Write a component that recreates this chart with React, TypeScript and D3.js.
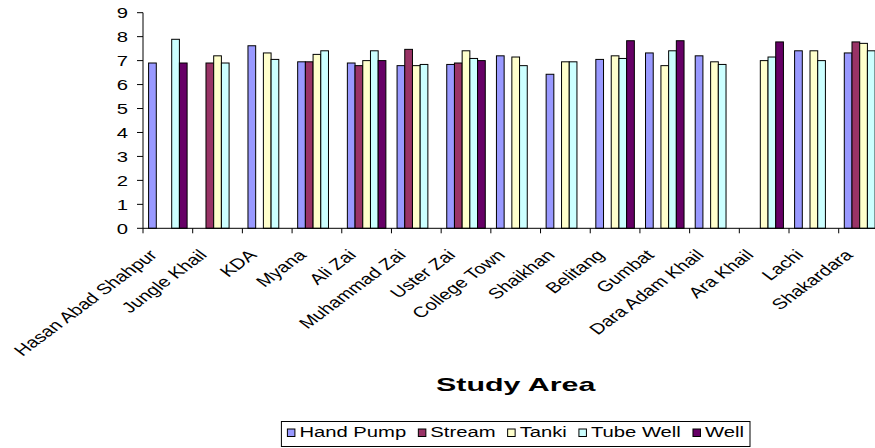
import React, { useEffect, useRef } from 'react';
import * as d3 from 'd3';

// categories along the x axis
const areas = [
  'Hasan Abad Shahpur', 'Jungle Khail', 'KDA', 'Myana', 'Ali Zai', 'Muhammad Zai', 'Uster Zai',
  'College Town', 'Shaikhan', 'Belitang', 'Gumbat', 'Dara Adam Khail', 'Ara Khail', 'Lachi', 'Shakardara',
];

const seriesNames = ['Hand Pump', 'Stream', 'Tanki', 'Tube Well', 'Well'];
const seriesColors = ['#9999FF', '#993366', '#FFFFCC', '#CCFFFF', '#660066'];

// values per series (null = no source in that area)
const handPump = [6.9, null, 7.62, 6.95, 6.9, 6.79, 6.84, 7.2, 6.43, 7.05, 7.32, 7.2, null, 7.41, 7.32];
const stream = [null, 6.9, null, 6.95, 6.79, 7.47, 6.9, null, null, null, null, null, null, null, 7.78];
const tanki = [null, 7.2, 7.32, 7.26, 7.0, 6.79, 7.41, 7.15, 6.95, 7.2, 6.79, 6.95, 7.0, 7.41, 7.72];
const tubeWell = [7.89, 6.9, 7.05, 7.41, 7.41, 6.84, 7.09, 6.79, 6.95, 7.09, 7.41, 6.84, 7.15, 7.0, 7.41];
const well = [6.9, null, null, null, 7.0, null, 7.0, null, null, 7.83, 7.83, null, 7.78, null, null];

const yTicks = [0, 1, 2, 3, 4, 5, 6, 7, 8, 9];

const FONT = "'Liberation Sans', Arial, sans-serif";
const STRETCH = 1.35; // the original text is drawn wide

export default function App() {
  const ref = useRef<SVGSVGElement>(null);

  useEffect(() => {
    if (!ref.current) return;
    const svg = d3.select(ref.current);
    svg.selectAll('*').remove();

    const plot = { left: 143, right: 888.4, top: 12.7, bottom: 228.3 };
    const values = [handPump, stream, tanki, tubeWell, well];

    const x = d3.scaleBand<string>().domain(areas).range([plot.left, plot.right]).padding(0);
    const x1 = d3.scaleBand<string>()
      .domain(seriesNames)
      .range([0, x.bandwidth()])
      .paddingInner(0)
      .paddingOuter(0.725);
    const y = d3.scaleLinear().domain([0, 9]).range([plot.bottom, plot.top]);

    // bars
    const data: { area: string, series: string, color: string, value: number }[] = [];
    areas.forEach((area, i) => {
      seriesNames.forEach((s, j) => {
        const v = values[j][i];
        if (v != null) data.push({ area, series: s, color: seriesColors[j], value: v });
      });
    });

    svg.append('g')
      .selectAll('rect')
      .data(data)
      .enter()
      .append('rect')
      .attr('x', d => x(d.area)! + x1(d.series)!)
      .attr('y', d => y(d.value))
      .attr('width', x1.bandwidth())
      .attr('height', d => y(0) - y(d.value))
      .attr('fill', d => d.color)
      .attr('stroke', '#000')
      .attr('stroke-width', 1);

    // y axis
    const ya = svg.append('g');
    ya.append('line')
      .attr('x1', plot.left).attr('x2', plot.left)
      .attr('y1', y(0)).attr('y2', y(9))
      .attr('stroke', '#000');
    yTicks.forEach(t => {
      ya.append('line')
        .attr('x1', plot.left - 6).attr('x2', plot.left)
        .attr('y1', y(t)).attr('y2', y(t))
        .attr('stroke', '#000');
      ya.append('text')
        .attr('transform', `translate(${plot.left - 15},${y(t) + 5.4}) scale(${STRETCH},1)`)
        .attr('text-anchor', 'end')
        .attr('font-family', FONT)
        .attr('font-size', 15)
        .attr('fill', '#000')
        .text(String(t));
    });

    // x axis
    const xa = svg.append('g');
    xa.append('line')
      .attr('x1', plot.left).attr('x2', plot.right)
      .attr('y1', y(0)).attr('y2', y(0))
      .attr('stroke', '#000');
    [...areas.map(a => x(a)!), plot.right].forEach(px => {
      xa.append('line')
        .attr('x1', px).attr('x2', px)
        .attr('y1', y(0)).attr('y2', y(0) + 5)
        .attr('stroke', '#000');
    });
    areas.forEach(a => {
      const cx = x(a)! + x.bandwidth() / 2;
      xa.append('text')
        .attr('transform', `translate(${cx - 9.5},256) scale(${STRETCH},1) rotate(-45)`)
        .attr('text-anchor', 'end')
        .attr('font-family', FONT)
        .attr('font-size', 15)
        .attr('fill', '#000')
        .text(a);
    });

    const midX = (plot.left + plot.right) / 2;

    // axis title
    svg.append('text')
      .attr('transform', `translate(${midX},391) scale(1.6,1)`)
      .attr('text-anchor', 'middle')
      .attr('font-family', FONT)
      .attr('font-size', 19)
      .attr('font-weight', 'bold')
      .attr('fill', '#000')
      .text('Study Area');

    // legend, centred under the plot
    const leg = svg.append('g');
    const box = leg.append('rect')
      .attr('fill', '#fff')
      .attr('stroke', '#000')
      .attr('stroke-width', 1);
    const items = seriesNames.map((name, i) => {
      const sw = leg.append('rect')
        .attr('width', 7.5).attr('height', 7.5)
        .attr('fill', seriesColors[i])
        .attr('stroke', '#000');
      const t = leg.append('text')
        .attr('font-family', FONT)
        .attr('font-size', 15)
        .attr('fill', '#000')
        .text(name);
      const w = (t.node() as SVGTextElement).getComputedTextLength() * STRETCH;
      return { sw, t, w };
    });
    const pad = 6, swGap = 4.5, itemGap = 12, sw = 7.5;
    const total = pad * 2 + d3.sum(items, d => sw + swGap + d.w) + itemGap * (items.length - 1);
    let cur = midX - total / 2;
    box.attr('x', cur).attr('y', 421.5).attr('width', total).attr('height', 25);
    cur += pad;
    items.forEach(it => {
      it.sw.attr('x', cur).attr('y', 429);
      it.t.attr('transform', `translate(${cur + sw + swGap},437) scale(${STRETCH},1)`);
      cur += sw + swGap + it.w + itemGap;
    });
  }, []);

  return (
    <div style={{ position: 'absolute', left: 0, top: 0, width: 875, height: 448, overflow: 'hidden', background: '#fff' }}>
      <svg ref={ref} width={875} height={448} style={{ display: 'block' }} />
    </div>
  );
}
